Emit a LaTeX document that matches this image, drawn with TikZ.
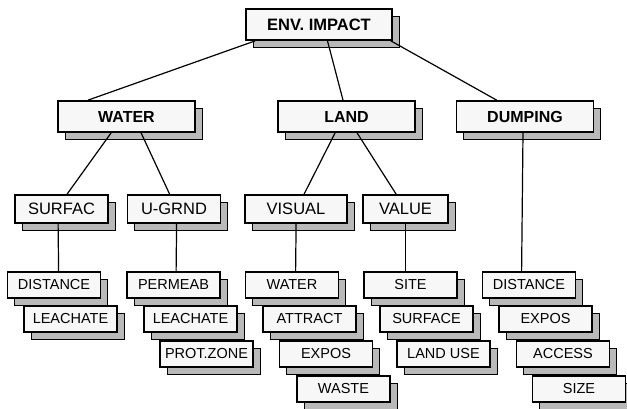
\documentclass[tikz,border=0pt]{standalone}
\usepackage{fontspec}
\setmainfont{Liberation Sans}
\usetikzlibrary{shadows}

\tikzset{
  boxbase/.style={draw,fill=gray!6,line width=1.8pt,inner sep=0pt,
    copy shadow={shadow xshift=7pt,shadow yshift=-7pt,fill=gray!55,line width=0.6pt}},
  headbox/.style={boxbase,minimum width=146pt,minimum height=31pt,font=\bfseries\fontsize{16.5}{18}\selectfont},
  mainbox/.style={boxbase,minimum width=137pt,minimum height=31pt,font=\bfseries\fontsize{16}{18}\selectfont},
  subbox/.style={boxbase,minimum width=93pt,minimum height=28pt,font=\fontsize{16.5}{18}\selectfont},
  leafbox/.style={boxbase,minimum width=93pt,minimum height=26pt,font=\fontsize{14.5}{16}\selectfont},
  link/.style={line width=1.2pt}
}

\begin{document}
\begin{tikzpicture}[x=1pt,y=-1pt]
\useasboundingbox (0,0) rectangle (627,408);
\node (1) at (319,24.5) [headbox] {ENV. IMPACT};
\node (2) at (126.5,116.5) [mainbox] {WATER};
\node (3) at (346.5,116.5) [mainbox] {LAND};
\node (4) at (525,116.5) [mainbox] {DUMPING};
\node (5) at (61.5,209) [subbox] {SURFAC};
\node (6) at (174,209) [subbox] {U-GRND};
\node (7) at (296,209) [subbox,minimum width=102pt] {VISUAL};
\node (8) at (405.5,209) [subbox,minimum width=85pt] {VALUE};
\node (9) at (54,285) [leafbox] {DISTANCE};
\node (10) at (70.5,319) [leafbox] {LEACHATE};
\node (11) at (173.5,285) [leafbox] {PERMEAB};
\node (12) at (190.5,319) [leafbox] {LEACHATE};
\node (13) at (206.5,354) [leafbox] {PROT.ZONE};
\node (14) at (292,285) [leafbox] {WATER};
\node (15) at (309.5,319) [leafbox] {ATTRACT};
\node (16) at (326,354) [leafbox] {EXPOS};
\node (17) at (343.5,389) [leafbox] {WASTE};
\node (18) at (410.5,285) [leafbox] {SITE};
\node (19) at (426.5,319) [leafbox] {SURFACE};
\node (20) at (443.5,354) [leafbox] {LAND USE};
\node (21) at (529,285) [leafbox] {DISTANCE};
\node (22) at (545.5,319) [leafbox] {EXPOS};
\node (23) at (563,354) [leafbox] {ACCESS};
\node (24) at (579,389) [leafbox] {SIZE};
\draw [link] ([xshift=10pt]1.south west) -- ([xshift=31pt]2.north west);
\draw [link] ([xshift=8.5pt]1.south) -- ([xshift=-3.5pt]3.north);
\draw [link] ([xshift=-2pt]1.south east) -- ([xshift=41pt]4.north west);
\draw [link] ([xshift=54pt]2.south west) -- ([xshift=53pt]5.north west);
\draw [link] ([xshift=84pt]2.south west) -- ([xshift=43pt]6.north west);
\draw [link] ([xshift=58pt]3.south west) -- ([xshift=60pt]7.north west);
\draw [link] ([xshift=80pt]3.south west) -- ([xshift=34pt]8.north west);
\draw [link] ([xshift=-2pt]4.south) -- ([xshift=40pt]21.north west);
\draw [link] ([xshift=44pt]5.south west) -- ([xshift=52pt]9.north west);
\draw [link] ([xshift=50pt]6.south west) -- ([xshift=50pt]11.north west);
\draw [link] ([xshift=52pt]7.south west) -- ([xshift=51pt]14.north west);
\draw [link] ([xshift=43pt]8.south west) -- ([xshift=42pt]18.north west);
\end{tikzpicture}
\end{document}
